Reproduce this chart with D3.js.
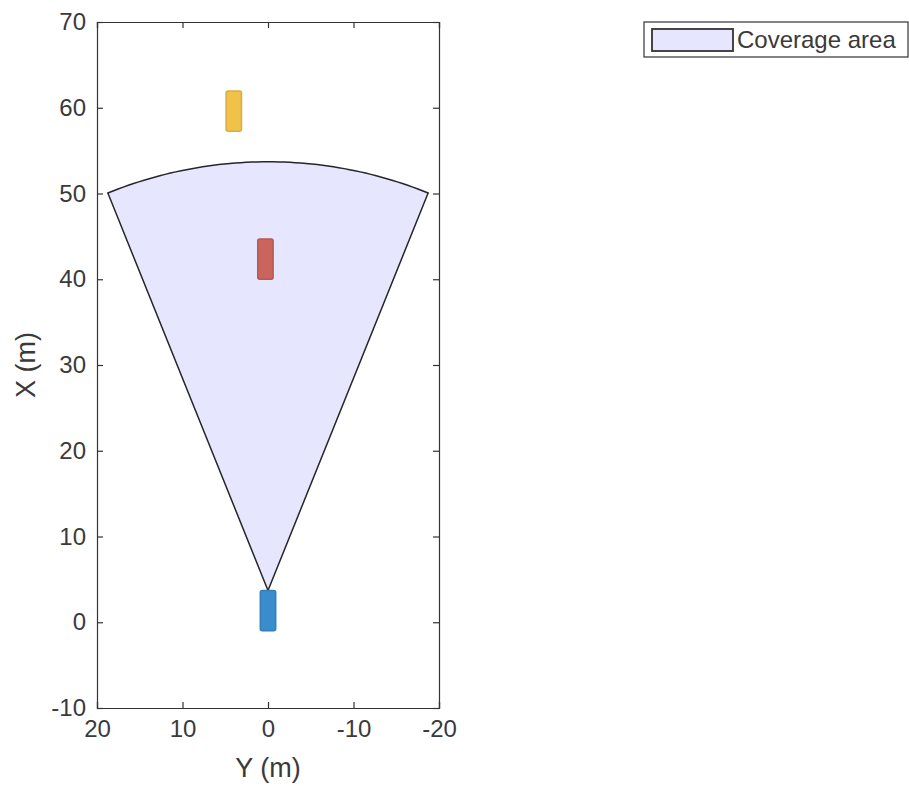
<!DOCTYPE html>
<html>
<head>
<meta charset="utf-8">
<style>
body { margin: 0; background: #fff; }
text { font-family: "Liberation Sans", Arial, sans-serif; fill: #3a3a3a; }
</style>
</head>
<body>
<script src="https://d3js.org/d3.v7.min.js"></script>
<script>
// coverage area of the sensor
var sensorX = 3.7;
var coverageRange = 50;
var coverageFov = 44;

// vehicles: centre X, centre Y, length, width
var vehicleNames = ["ego", "lead", "far"];
var vehicleX = [1.35, 42.35, 59.6];
var vehicleY = [0, 0.3, 4.0];
var vehicleLength = [4.7, 4.7, 4.7];
var vehicleWidth = [1.8, 1.8, 1.8];
var vehicleColors = ["#3a8dcc", "#c9655c", "#f0c24a"];

var yTicks = [20, 10, 0, -10, -20];
var xTicks = [-10, 0, 10, 20, 30, 40, 50, 60, 70];

var width = 909, height = 786;

var svg = d3.select("body").append("svg")
  .attr("width", width)
  .attr("height", height);

var sx = d3.scaleLinear().domain([20, -20]).range([97, 439]);
var sy = d3.scaleLinear().domain([-10, 70]).range([708, 22]);

var plot = svg.append("g");

// sector
var half = coverageFov / 2 * Math.PI / 180;
var pts = [[sensorX, 0]];
for (var i = 0; i <= 60; i++) {
  var a = -half + 2 * half * i / 60;
  pts.push([sensorX + coverageRange * Math.cos(a), coverageRange * Math.sin(a)]);
}
plot.append("path")
  .attr("d", d3.line().x(d => sx(d[1])).y(d => sy(d[0]))(pts) + "Z")
  .attr("fill", "#e6e6ff")
  .attr("stroke", "#262626")
  .attr("stroke-width", 1.5);

// vehicles
plot.selectAll("rect.veh")
  .data(vehicleNames)
  .enter().append("rect")
  .attr("class", "veh")
  .attr("x", (d, i) => sx(vehicleY[i] + vehicleWidth[i] / 2))
  .attr("y", (d, i) => sy(vehicleX[i] + vehicleLength[i] / 2))
  .attr("width", (d, i) => sx(vehicleY[i] - vehicleWidth[i] / 2) - sx(vehicleY[i] + vehicleWidth[i] / 2))
  .attr("height", (d, i) => sy(vehicleX[i] - vehicleLength[i] / 2) - sy(vehicleX[i] + vehicleLength[i] / 2))
  .attr("rx", 2)
  .attr("fill", (d, i) => vehicleColors[i])
  .attr("stroke", (d, i) => d3.color(vehicleColors[i]).darker(0.3))
  .attr("stroke-width", 1.5);

// axes
var fs = "24px";
var fmt = d => String(d);
var xAxis = svg.append("g").attr("transform", "translate(0," + sy(-10) + ")")
  .call(d3.axisBottom(sx).tickValues(yTicks).tickSize(-6).tickPadding(12).tickFormat(fmt));
var xTop = svg.append("g").attr("transform", "translate(0," + sy(70) + ")")
  .call(d3.axisTop(sx).tickValues(yTicks).tickSize(-6).tickFormat(""));
var yAxis = svg.append("g").attr("transform", "translate(" + sx(20) + ",0)")
  .call(d3.axisLeft(sy).tickValues(xTicks).tickSize(-6).tickPadding(11).tickFormat(fmt));
var yRight = svg.append("g").attr("transform", "translate(" + sx(-20) + ",0)")
  .call(d3.axisRight(sy).tickValues(xTicks).tickSize(-6).tickFormat(""));

[xAxis, xTop, yAxis, yRight].forEach(function (g) {
  g.select(".domain").attr("stroke", "#333").attr("stroke-width", 1.2);
  g.selectAll(".tick line").attr("stroke", "#333").attr("stroke-width", 1.2);
  g.selectAll(".tick text").attr("font-size", fs).attr("fill", "#3a3a3a")
    .attr("font-family", "Liberation Sans, Arial, sans-serif");
});

svg.append("text")
  .attr("x", (sx(20) + sx(-20)) / 2)
  .attr("y", 777)
  .attr("text-anchor", "middle")
  .attr("font-size", "27px")
  .text("Y (m)");

svg.append("text")
  .attr("transform", "translate(35," + (sy(-10) + sy(70)) / 2 + ") rotate(-90)")
  .attr("text-anchor", "middle")
  .attr("font-size", "27px")
  .text("X (m)");

// legend
var lg = svg.append("g");
lg.append("rect")
  .attr("x", 644).attr("y", 22).attr("width", 264).attr("height", 35)
  .attr("fill", "#fff").attr("stroke", "#333").attr("stroke-width", 1.2);
lg.append("rect")
  .attr("x", 652).attr("y", 29).attr("width", 81).attr("height", 22)
  .attr("fill", "#e6e6ff").attr("stroke", "#333").attr("stroke-width", 1.8);
lg.append("text")
  .attr("x", 737).attr("y", 48)
  .attr("font-size", "24px")
  .text("Coverage area");
</script>
</body>
</html>
